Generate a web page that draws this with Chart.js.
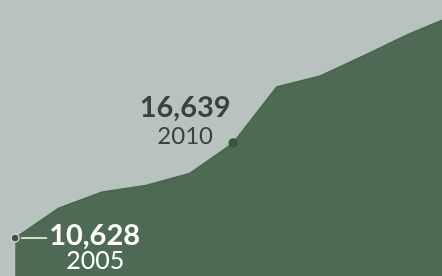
<!DOCTYPE html>
<html>
<head>
<meta charset="utf-8">
<script src="https://cdn.jsdelivr.net/npm/chart.js@4"></script>
<style>
  html, body { margin: 0; padding: 0; background: #b8c3c0; }
  #wrap { width: 442px; height: 276px; }
</style>
</head>
<body>
<div id="wrap"><canvas id="grArea"></canvas></div>
<script>
// values
var years = [2005, 2006, 2007, 2008, 2009, 2010, 2011, 2012, 2013, 2014, 2015];
var values = [10628, 12520, 13540, 13950, 14710, 16639, 20180, 20880, 22170, 23500, 24650];
var callouts = [2005, 2010];

var fillGreen = '#4f6a52';

var points = [];
for (var i = 0; i < years.length; i++) {
	points.push({x: years[i], y: values[i]});
}

function fmt(n) {
	return n.toLocaleString('en-US');
}

// draws the two callout labels next to their points
var calloutPlugin = {
	id: 'callouts',
	afterDatasetsDraw: function(chart) {
		var ctx = chart.ctx;
		var xs = chart.scales.x, ys = chart.scales.y;
		ctx.save();
		callouts.forEach(function(yr, k) {
			var v = values[years.indexOf(yr)];
			var px = xs.getPixelForValue(yr);
			var py = ys.getPixelForValue(v);
			if (k === 0) {
				// small leader line to the right
				ctx.strokeStyle = '#d3dad6';
				ctx.lineWidth = 2;
				ctx.beginPath();
				ctx.moveTo(px + 6, py);
				ctx.lineTo(px + 32, py);
				ctx.stroke();
				ctx.fillStyle = '#ffffff';
				ctx.textAlign = 'left';
				ctx.font = 'bold 29px Lato';
				ctx.fillText(fmt(v), px + 34, py + 7);
				ctx.textAlign = 'center';
				ctx.font = '25px Lato';
				ctx.fillText(String(yr), px + 80, py + 31);
			} else {
				ctx.fillStyle = '#3b413e';
				ctx.textAlign = 'center';
				ctx.font = 'bold 29px Lato';
				ctx.fillText(fmt(v), px - 48, py - 26);
				ctx.font = '24px Lato';
				ctx.fillText(String(yr), px - 48, py + 1);
			}
		});
		ctx.restore();
	}
};

var ctxA = document.getElementById('grArea').getContext('2d');
window.myArea = new Chart(ctxA, {
	type: 'line',
	data: {
		datasets: [{
			data: points,
			fill: 'start',
			backgroundColor: fillGreen,
			borderColor: '#4a6450',
			borderWidth: 1.5,
			tension: 0,
			pointRadius: years.map(function(y) { return callouts.indexOf(y) >= 0 ? 4 : 0; }),
			pointBackgroundColor: '#3e5243',
			pointBorderColor: years.map(function(y) { return y === 2005 ? '#cfd6d2' : '#3e5243'; }),
			pointBorderWidth: 1.5
		}]
	},
	options: {
		responsive: true,
		maintainAspectRatio: false,
		animation: false,
		layout: { padding: 0, autoPadding: false },
		plugins: { legend: { display: false }, tooltip: { enabled: false } },
		scales: {
			x: { type: 'linear', display: false, min: 2004.653, max: 2014.79 },
			y: { display: false, min: 8224, max: 25687 }
		}
	},
	plugins: [calloutPlugin]
});
</script>
</body>
</html>
